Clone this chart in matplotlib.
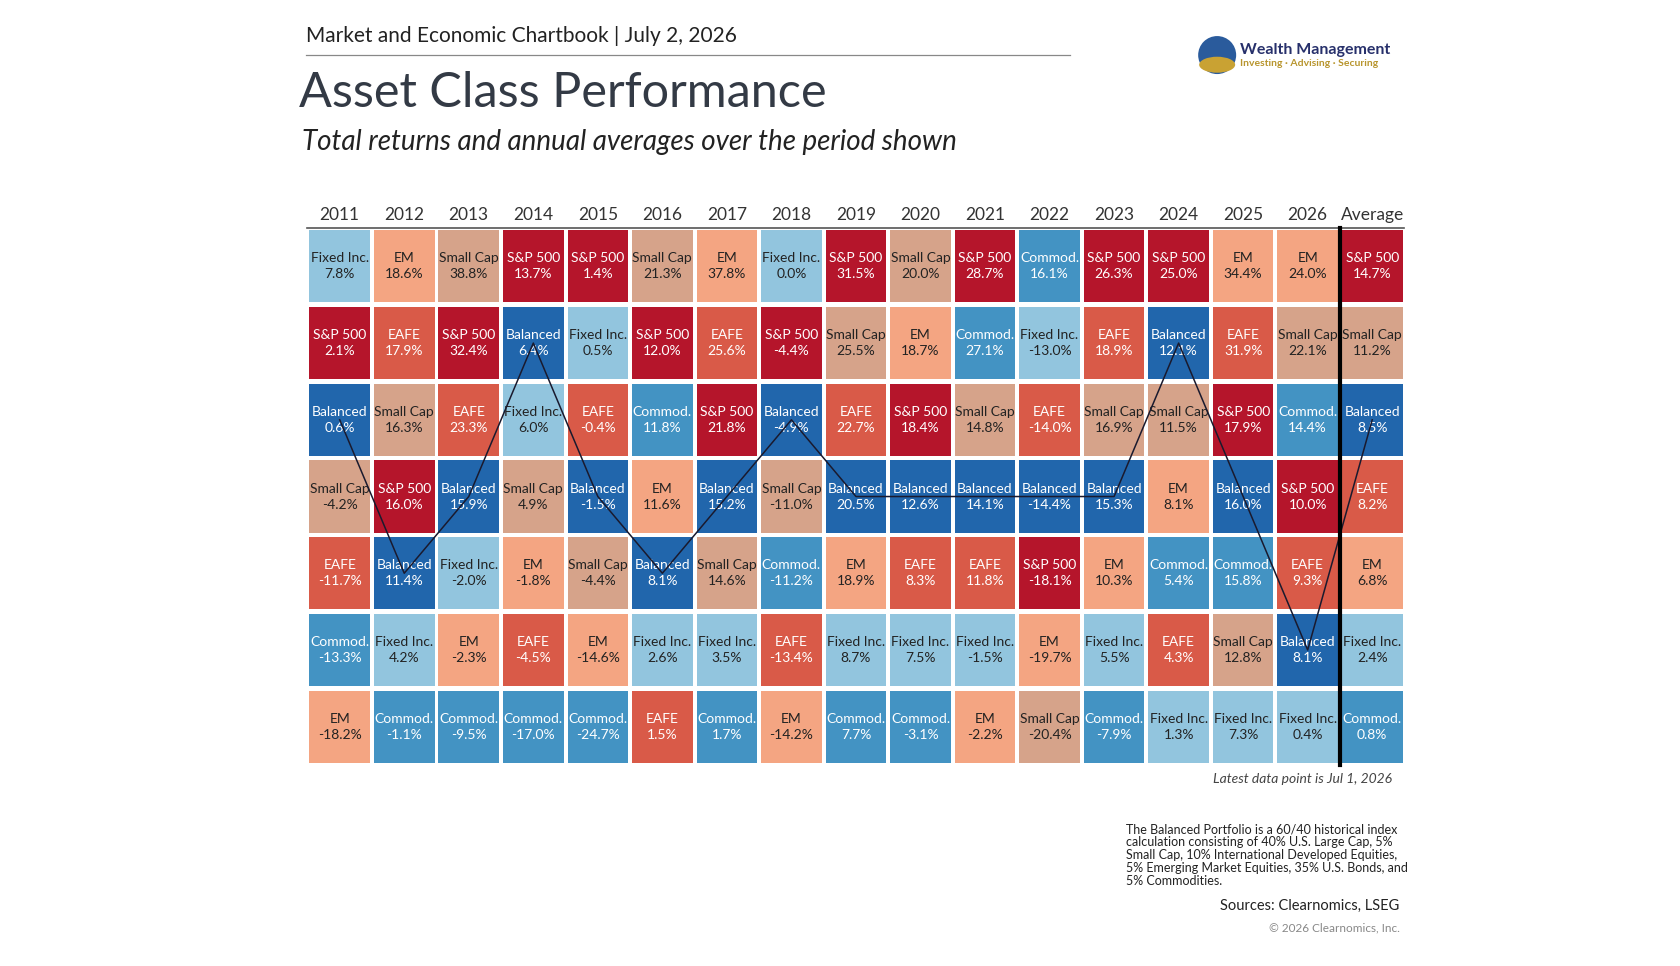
import matplotlib
matplotlib.use("Agg")
import matplotlib.pyplot as plt
from matplotlib.patches import Rectangle, Ellipse

plt.rcParams['font.family'] = ['Lato', 'DejaVu Sans']

years = ['2011', '2012', '2013', '2014', '2015', '2016', '2017', '2018', '2019',
         '2020', '2021', '2022', '2023', '2024', '2025', '2026', 'Average']

# ranked top to bottom for each column
names = [
    ['Fixed Inc.', 'S&P 500', 'Balanced', 'Small Cap', 'EAFE', 'Commod.', 'EM'],
    ['EM', 'EAFE', 'Small Cap', 'S&P 500', 'Balanced', 'Fixed Inc.', 'Commod.'],
    ['Small Cap', 'S&P 500', 'EAFE', 'Balanced', 'Fixed Inc.', 'EM', 'Commod.'],
    ['S&P 500', 'Balanced', 'Fixed Inc.', 'Small Cap', 'EM', 'EAFE', 'Commod.'],
    ['S&P 500', 'Fixed Inc.', 'EAFE', 'Balanced', 'Small Cap', 'EM', 'Commod.'],
    ['Small Cap', 'S&P 500', 'Commod.', 'EM', 'Balanced', 'Fixed Inc.', 'EAFE'],
    ['EM', 'EAFE', 'S&P 500', 'Balanced', 'Small Cap', 'Fixed Inc.', 'Commod.'],
    ['Fixed Inc.', 'S&P 500', 'Balanced', 'Small Cap', 'Commod.', 'EAFE', 'EM'],
    ['S&P 500', 'Small Cap', 'EAFE', 'Balanced', 'EM', 'Fixed Inc.', 'Commod.'],
    ['Small Cap', 'EM', 'S&P 500', 'Balanced', 'EAFE', 'Fixed Inc.', 'Commod.'],
    ['S&P 500', 'Commod.', 'Small Cap', 'Balanced', 'EAFE', 'Fixed Inc.', 'EM'],
    ['Commod.', 'Fixed Inc.', 'EAFE', 'Balanced', 'S&P 500', 'EM', 'Small Cap'],
    ['S&P 500', 'EAFE', 'Small Cap', 'Balanced', 'EM', 'Fixed Inc.', 'Commod.'],
    ['S&P 500', 'Balanced', 'Small Cap', 'EM', 'Commod.', 'EAFE', 'Fixed Inc.'],
    ['EM', 'EAFE', 'S&P 500', 'Balanced', 'Commod.', 'Small Cap', 'Fixed Inc.'],
    ['EM', 'Small Cap', 'Commod.', 'S&P 500', 'EAFE', 'Balanced', 'Fixed Inc.'],
    ['S&P 500', 'Small Cap', 'Balanced', 'EAFE', 'EM', 'Fixed Inc.', 'Commod.'],
]
values = [
    [7.8, 2.1, 0.6, -4.2, -11.7, -13.3, -18.2],
    [18.6, 17.9, 16.3, 16.0, 11.4, 4.2, -1.1],
    [38.8, 32.4, 23.3, 15.9, -2.0, -2.3, -9.5],
    [13.7, 6.4, 6.0, 4.9, -1.8, -4.5, -17.0],
    [1.4, 0.5, -0.4, -1.5, -4.4, -14.6, -24.7],
    [21.3, 12.0, 11.8, 11.6, 8.1, 2.6, 1.5],
    [37.8, 25.6, 21.8, 15.2, 14.6, 3.5, 1.7],
    [0.0, -4.4, -4.9, -11.0, -11.2, -13.4, -14.2],
    [31.5, 25.5, 22.7, 20.5, 18.9, 8.7, 7.7],
    [20.0, 18.7, 18.4, 12.6, 8.3, 7.5, -3.1],
    [28.7, 27.1, 14.8, 14.1, 11.8, -1.5, -2.2],
    [16.1, -13.0, -14.0, -14.4, -18.1, -19.7, -20.4],
    [26.3, 18.9, 16.9, 15.3, 10.3, 5.5, -7.9],
    [25.0, 12.1, 11.5, 8.1, 5.4, 4.3, 1.3],
    [34.4, 31.9, 17.9, 16.0, 15.8, 12.8, 7.3],
    [24.0, 22.1, 14.4, 10.0, 9.3, 8.1, 0.4],
    [14.7, 11.2, 8.5, 8.2, 6.8, 2.4, 0.8],
]

colors = {'S&P 500': '#b5152b', 'EAFE': '#d95a48', 'EM': '#f4a582', 'Small Cap': '#d6a38a',
          'Fixed Inc.': '#92c5de', 'Commod.': '#4393c3', 'Balanced': '#2166ac'}
dark_text = {'EM', 'Small Cap', 'Fixed Inc.'}

fig = plt.figure(figsize=(16.8, 9.66), dpi=100)
fig.patch.set_facecolor('white')

ax = fig.add_axes([0.183, 0.208, 0.653, 0.556])
ncol, nrow = len(years), 7
ax.set_xlim(0, ncol)
ax.set_ylim(nrow, 0)
ax.axis('off')

gap = 0.03
bal_x, bal_y = [], []
for c in range(ncol):
    for r in range(nrow):
        nm = names[c][r]
        ax.add_patch(Rectangle((c + gap, r + gap), 1 - 2 * gap, 1 - 2 * gap,
                               facecolor=colors[nm], edgecolor='none'))
        tc = '#222222' if nm in dark_text else 'white'
        ax.text(c + 0.5, r + 0.5, f"{nm}\n{values[c][r]:.1f}%", ha='center', va='center',
                fontsize=10, color=tc, linespacing=1.4)
        if nm == 'Balanced':
            bal_x.append(c + 0.5)
            bal_y.append(r + 0.5)
    ax.text(c + 0.5, -0.06, years[c], ha='center', va='bottom', fontsize=12.5, color='#333333')

ax.plot(bal_x, bal_y, color='#1a1a2e', lw=1.1, zorder=5)
ax.plot([0, ncol], [0, 0], color='#555555', lw=1.2, clip_on=False)
ax.plot([ncol - 1, ncol - 1], [0, nrow], color='black', lw=3, clip_on=False, zorder=6)

ax.text(ncol - 0.2, nrow + 0.1, 'Latest data point is Jul 1, 2026', ha='right', va='top',
        fontsize=10, style='italic', color='#444444')

# header
fig.text(0.182, 0.963, 'Market and Economic Chartbook | July 2, 2026', fontsize=15,
         color='#222222', va='center')
fig.add_artist(plt.Line2D([0.182, 0.637], [0.943, 0.943], color='#888888', lw=0.9))
fig.text(0.178, 0.904, 'Asset Class Performance', fontsize=35, color='#333a45', va='center')
fig.text(0.180, 0.853, 'Total returns and annual averages over the period shown', fontsize=20,
         style='italic', color='#222222', va='center')

# logo text
fig.text(0.738, 0.948, 'Wealth Management', fontsize=11.5, weight='bold', color='#27306b',
         va='center')
fig.text(0.738, 0.934, 'Investing · Advising · Securing', fontsize=7.5, weight='bold',
         color='#b8952d', va='center')
fig.add_artist(Ellipse((0.7245, 0.943), 38 / 1680, 38 / 966, transform=fig.transFigure,
                       facecolor='#2a5b9c', edgecolor='none'))
fig.add_artist(Ellipse((0.7245, 0.933), 36 / 1680, 16 / 966, transform=fig.transFigure,
                       facecolor='#c9a233', edgecolor='none'))

note = ("The Balanced Portfolio is a 60/40 historical index\n"
        "calculation consisting of 40% U.S. Large Cap, 5%\n"
        "Small Cap, 10% International Developed Equities,\n"
        "5% Emerging Market Equities, 35% U.S. Bonds, and\n"
        "5% Commodities.")
fig.text(0.670, 0.148, note, fontsize=9, color='#222222', va='top', linespacing=1.1)
fig.text(0.833, 0.062, 'Sources: Clearnomics, LSEG', fontsize=10.5, color='#222222',
         ha='right', va='center')
fig.text(0.833, 0.039, '© 2026 Clearnomics, Inc.', fontsize=8.5, color='#888888',
         ha='right', va='center')

fig.savefig('out.png', dpi=100, facecolor='white')
